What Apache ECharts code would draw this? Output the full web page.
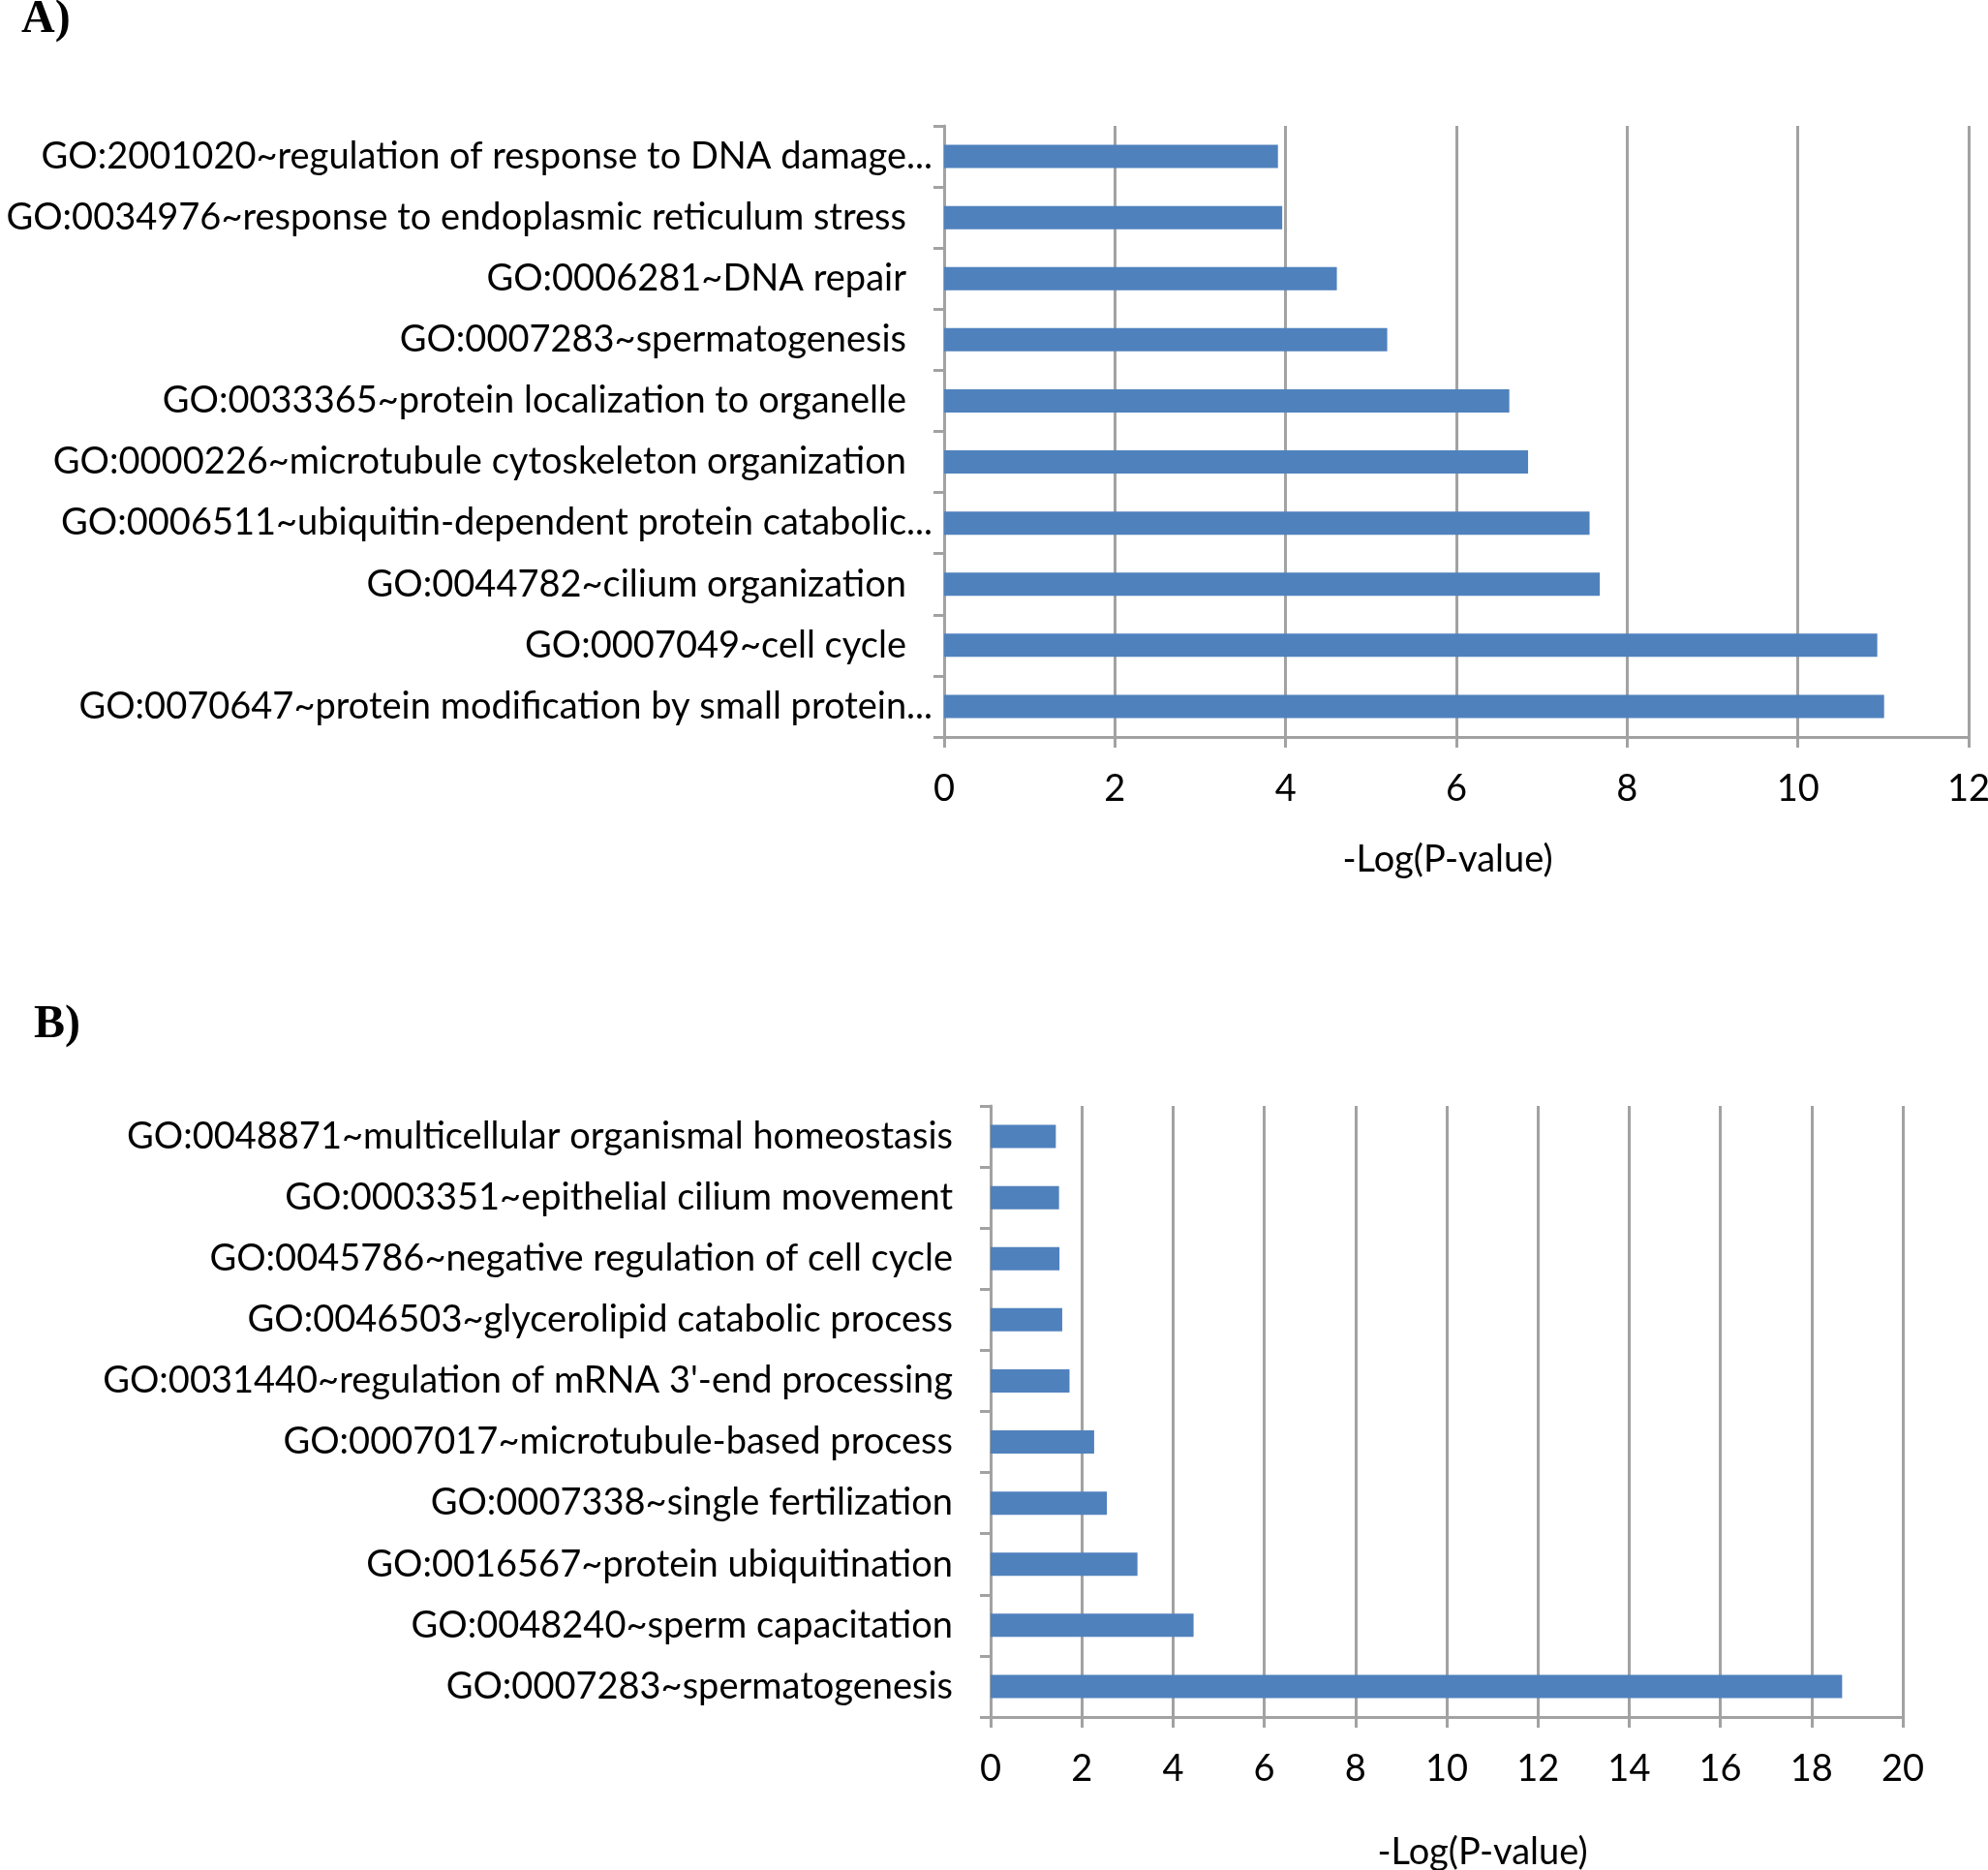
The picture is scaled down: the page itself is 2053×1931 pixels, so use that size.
<!DOCTYPE html>
<html>
<head>
<meta charset="utf-8">
<title>GO enrichment</title>
<script src="https://cdn.jsdelivr.net/npm/echarts@6/dist/echarts.min.js"></script>
<style>
  html, body { margin: 0; padding: 0; background: #fff; }
  #chart { width: 2053px; height: 1931px; }
</style>
</head>
<body>
<div id="chart"></div>
<script>
// panel A, listed top to bottom
const termsA = [
  'GO:2001020~regulation of response to DNA damage...',
  'GO:0034976~response to endoplasmic reticulum stress',
  'GO:0006281~DNA repair',
  'GO:0007283~spermatogenesis',
  'GO:0033365~protein localization to organelle',
  'GO:0000226~microtubule cytoskeleton organization',
  'GO:0006511~ubiquitin-dependent protein catabolic...',
  'GO:0044782~cilium organization',
  'GO:0007049~cell cycle',
  'GO:0070647~protein modification by small protein...'
]
const valuesA = [3.91, 3.96, 4.60, 5.19, 6.62, 6.84, 7.56, 7.68, 10.93, 11.01]

// panel B, listed top to bottom
const termsB = [
  'GO:0048871~multicellular organismal homeostasis',
  'GO:0003351~epithelial cilium movement',
  'GO:0045786~negative regulation of cell cycle',
  'GO:0046503~glycerolipid catabolic process',
  "GO:0031440~regulation of mRNA 3'-end processing",
  'GO:0007017~microtubule-based process',
  'GO:0007338~single fertilization',
  'GO:0016567~protein ubiquitination',
  'GO:0048240~sperm capacitation',
  'GO:0007283~spermatogenesis'
]
const valuesB = [1.43, 1.50, 1.51, 1.57, 1.73, 2.27, 2.55, 3.22, 4.45, 18.67]

const axisName = '-Log(P-value)'
const panelLabels = ['A)', 'B)']

const FONT = 'Lato'
const FS = 38
const GRAY = '#a2a2a2'
const BLUE = '#4f81bd'

function catAxis(idx, terms) {
  return {
    type: 'category',
    gridIndex: idx,
    data: terms,
    inverse: true,
    axisLine: { lineStyle: { color: GRAY, width: 3 } },
    axisTick: { show: true, length: 11, lineStyle: { color: GRAY, width: 3 } },
    splitLine: { show: false },
    axisLabel: {
      margin: 12,
      color: '#000',
      fontFamily: FONT,
      fontSize: FS,
      formatter: v => v.endsWith('...') ? '{t|' + v + '}' : '{n|' + v + '}',
      rich: {
        t: { fontFamily: FONT, fontSize: FS, color: '#000' },
        n: { fontFamily: FONT, fontSize: FS, color: '#000', padding: [0, 27, 0, 0] }
      }
    }
  }
}

function valAxis(idx, max, shift, gap) {
  return {
    type: 'value',
    gridIndex: idx,
    min: 0,
    max: max,
    interval: 2,
    name: axisName,
    nameLocation: 'middle',
    nameGap: gap,
    nameTextStyle: { fontFamily: FONT, fontSize: FS, color: '#000', padding: shift },
    axisLine: { show: true, lineStyle: { color: GRAY, width: 3 } },
    axisTick: { show: true, length: 11, lineStyle: { color: GRAY, width: 3 } },
    splitLine: { show: true, lineStyle: { color: GRAY, width: 3 } },
    axisLabel: { margin: 35, color: '#000', fontFamily: FONT, fontSize: FS }
  }
}

const chart = echarts.init(document.getElementById('chart'))

const option = {
  backgroundColor: '#fff',
  animation: false,
  title: [
    {
      text: panelLabels[0], left: 17, top: -8,
      textStyle: { fontFamily: 'Liberation Serif', fontWeight: 'bold', fontSize: 48, color: '#000' }
    },
    {
      text: panelLabels[1], left: 30, top: 1030,
      textStyle: { fontFamily: 'Liberation Serif', fontWeight: 'bold', fontSize: 48, color: '#000' }
    }
  ],
  grid: [
    { left: 975, right: 20, top: 130, height: 631, outerBoundsMode: 'none' },
    { left: 1023, right: 88, top: 1142, height: 631, outerBoundsMode: 'none' }
  ],
  xAxis: [
    valAxis(0, 12, [0, 18, 0, 0], 108),
    valAxis(1, 20, [0, 0, 0, 74], 121)
  ],
  yAxis: [
    catAxis(0, termsA),
    catAxis(1, termsB)
  ],
  series: [
    {
      type: 'bar', xAxisIndex: 0, yAxisIndex: 0,
      data: valuesA, barWidth: '38%',
      itemStyle: { color: BLUE }
    },
    {
      type: 'bar', xAxisIndex: 1, yAxisIndex: 1,
      data: valuesB, barWidth: '38%',
      itemStyle: { color: BLUE }
    }
  ]
}

chart.setOption(option)
</script>
</body>
</html>
